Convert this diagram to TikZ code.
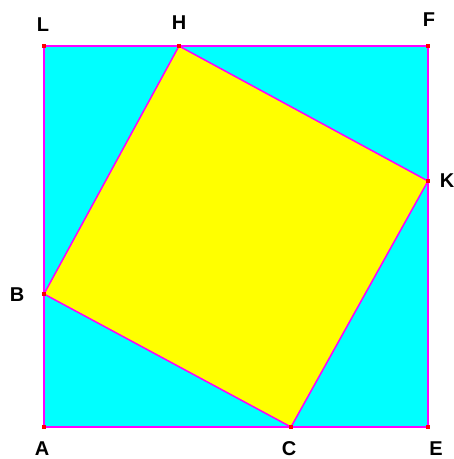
\documentclass[tikz,border=0pt]{standalone}
\usepackage{fontspec}
\setmainfont{Liberation Sans}
\definecolor{cyanrgb}{RGB}{0,255,255}
\definecolor{yellowrgb}{RGB}{255,255,0}
\definecolor{magentargb}{RGB}{255,0,255}
\definecolor{redrgb}{RGB}{255,0,0}
\begin{document}
\begin{tikzpicture}[x=1pt,y=-1pt,
  edge/.style={draw=magentargb,line width=1.5pt},
  pt/.style={fill=redrgb,minimum size=4pt,inner sep=0pt,draw=none,rectangle},
  lbl/.style={font=\fontsize{20}{20}\bfseries\selectfont,inner sep=0pt,text height=14.5pt,text depth=0pt}]
\useasboundingbox (0,0) rectangle (454,459);
\fill[white] (0,0) rectangle (454,459);
\coordinate (A) at (44,427);
\coordinate (L) at (44,46);
\coordinate (F) at (428,46);
\coordinate (E) at (428,427);
\coordinate (H) at (179,46);
\coordinate (K) at (428,181);
\coordinate (C) at (291,427);
\coordinate (B) at (44,294);
\fill[cyanrgb] (A) -- (L) -- (F) -- (E) -- cycle;
\fill[yellowrgb] (B) -- (H) -- (K) -- (C) -- cycle;
\draw[edge] (A) -- (L) -- (F) -- (E) -- cycle;
\draw[edge,line join=miter] (B) -- (H) -- (K) -- (C) -- cycle;
\foreach \p in {A,L,F,E,H,K,C,B} \node[pt] at (\p) {};
\node[lbl] (tL) at (43,24) {L};
\node[lbl] (tH) at (179,22) {H};
\node[lbl] (tF) at (429,19) {F};
\node[lbl] (tK) at (447,180) {K};
\node[lbl] (tB) at (17,294) {B};
\node[lbl] (tA) at (42,448.5) {A};
\node[lbl] (tC) at (289,448.5) {C};
\node[lbl] (tE) at (436,448) {E};
\end{tikzpicture}
\end{document}
